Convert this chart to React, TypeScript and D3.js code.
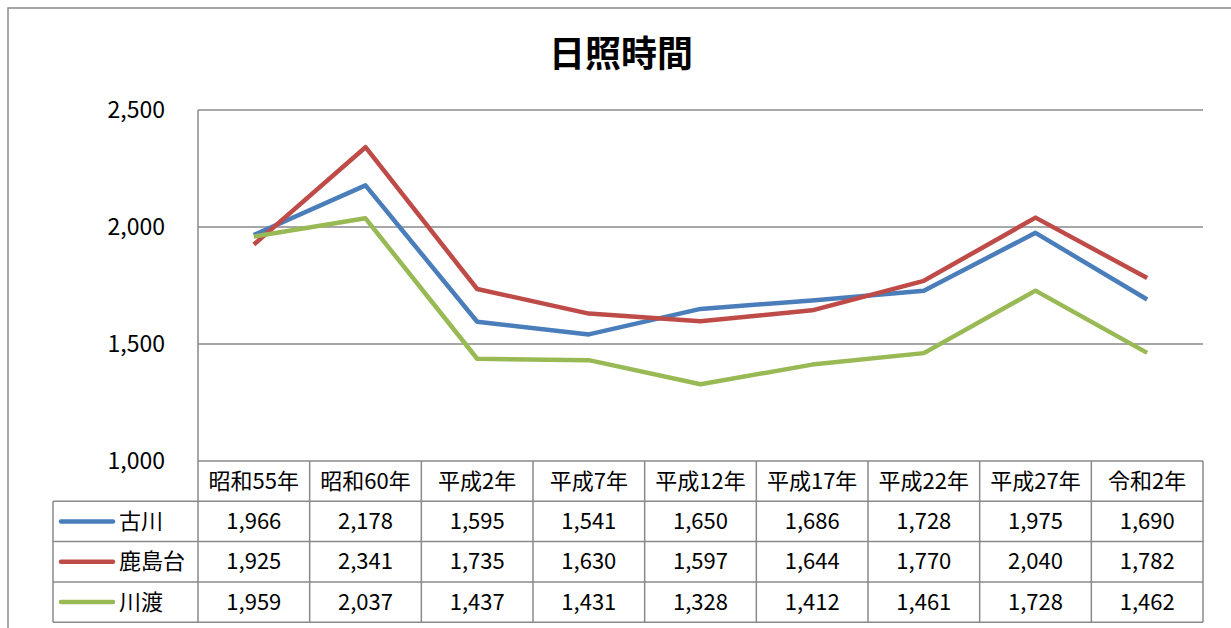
import React from 'react';
import { scaleLinear, scaleBand, line, format } from 'd3';

const categories = ['昭和55年', '昭和60年', '平成2年', '平成7年', '平成12年', '平成17年', '平成22年', '平成27年', '令和2年'];
const furukawa = [1966, 2178, 1595, 1541, 1650, 1686, 1728, 1975, 1690];
const kashimadai = [1925, 2341, 1735, 1630, 1597, 1644, 1770, 2040, 1782];
const kawatare = [1959, 2037, 1437, 1431, 1328, 1412, 1461, 1728, 1462];
const yTicks = [1000, 1500, 2000, 2500];

const series = [
  { name: '古川', values: furukawa, color: '#4A7EBB' },
  { name: '鹿島台', values: kashimadai, color: '#BE4B48' },
  { name: '川渡', values: kawatare, color: '#98B954' },
];

const FONT = '"Noto Sans CJK JP", "Noto Sans", sans-serif';
const GRID = '#8a8a8a';

export default function App() {
  const left = 198;
  const right = 1203;
  const top = 110;
  const bottom = 461;
  const rowH = 40.3;
  const legendLeft = 53;

  const x = scaleBand().domain(categories).range([left, right]).padding(0);
  const y = scaleLinear().domain([1000, 2500]).range([bottom, top]);
  const fmt = format(',');

  const makeLine = line<number>()
    .x((_, i) => (x(categories[i]) as number) + x.bandwidth() / 2)
    .y((d) => y(d));

  const tableBottom = bottom + rowH * 4;

  return (
    <svg
      width={1231}
      height={628}
      style={{ position: 'absolute', left: 0, top: 0, display: 'block', background: '#fff' }}
      fontFamily={FONT}
    >
      {/* outer frame */}
      <rect x={8} y={8} width={1260} height={660} fill="#fff" stroke={GRID} strokeWidth={1.5} />

      <text x={621} y={67} textAnchor="middle" fontSize={36} fontWeight="bold" fill="#000">
        日照時間
      </text>

      {/* gridlines */}
      {yTicks.map((t) => (
        <g key={t}>
          {t > 1000 && (
            <line x1={left} x2={right} y1={y(t)} y2={y(t)} stroke={GRID} strokeWidth={1.5} />
          )}
          <text x={165} y={y(t)} dy="0.35em" textAnchor="end" fontSize={23} fill="#000">
            {fmt(t)}
          </text>
        </g>
      ))}

      {/* table grid */}
      <line x1={left} x2={right} y1={bottom} y2={bottom} stroke={GRID} strokeWidth={1.5} />
      {[1, 2, 3, 4].map((r) => (
        <line key={r} x1={legendLeft} x2={right} y1={bottom + rowH * r} y2={bottom + rowH * r} stroke={GRID} strokeWidth={1.5} />
      ))}
      <line x1={left} x2={left} y1={top} y2={tableBottom} stroke={GRID} strokeWidth={1.5} />
      <line x1={legendLeft} x2={legendLeft} y1={bottom + rowH} y2={tableBottom} stroke={GRID} strokeWidth={1.5} />
      {categories.map((c) => (
        <line
          key={c}
          x1={(x(c) as number) + x.bandwidth()}
          x2={(x(c) as number) + x.bandwidth()}
          y1={bottom}
          y2={tableBottom}
          stroke={GRID}
          strokeWidth={1.5}
        />
      ))}

      {/* header */}
      {categories.map((c) => (
        <text
          key={c}
          x={(x(c) as number) + x.bandwidth() / 2}
          y={bottom + rowH / 2}
          dy="0.35em"
          textAnchor="middle"
          fontSize={22}
          fill="#000"
        >
          {c}
        </text>
      ))}

      {/* rows */}
      {series.map((s, r) => {
        const cy = bottom + rowH * (r + 1) + rowH / 2;
        return (
          <g key={s.name}>
            <line x1={61} x2={113} y1={cy} y2={cy} stroke={s.color} strokeWidth={4.5} strokeLinecap="round" />
            <text x={119} y={cy} dy="0.35em" fontSize={22} fill="#000">
              {s.name}
            </text>
            {s.values.map((v, i) => (
              <text
                key={i}
                x={(x(categories[i]) as number) + x.bandwidth() / 2}
                y={cy}
                dy="0.35em"
                textAnchor="middle"
                fontSize={22}
                fill="#000"
              >
                {fmt(v)}
              </text>
            ))}
          </g>
        );
      })}

      {/* series lines */}
      {series.map((s) => (
        <path
          key={s.name}
          d={makeLine(s.values) ?? ''}
          fill="none"
          stroke={s.color}
          strokeWidth={4.5}
          strokeLinejoin="round"
          strokeLinecap="butt"
        />
      ))}
    </svg>
  );
}
